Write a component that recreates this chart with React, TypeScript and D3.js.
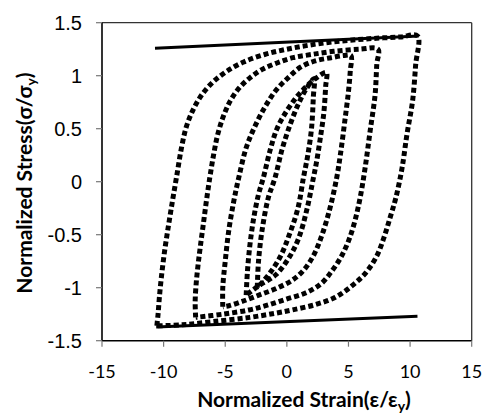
import React from "react";
import * as d3 from "d3";

const xTicks = [-15, -10, -5, 0, 5, 10, 15];
const yTicks = [-1.5, -1, -0.5, 0, 0.5, 1, 1.5];

// [strain, stress] — each loop: ascending branch then descending branch
const loop1: [number, number][] = [
  [-2.4, -1.0], [-2.3, -0.75], [-2.0, -0.45], [-1.5, -0.15], [-0.95, 0.04], [-0.4, 0.3],
  [0.3, 0.55], [1.0, 0.75], [1.6, 0.88], [2.2, 0.97],
  [2.15, 0.8], [2.0, 0.5], [1.7, 0.25], [1.35, 0.04], [0.9, -0.25], [0.2, -0.5],
  [-0.5, -0.7], [-1.3, -0.85], [-2.0, -0.95], [-2.4, -1.0],
];
const loop2: [number, number][] = [
  [-3.3, -1.07], [-3.2, -0.85], [-3.0, -0.6], [-2.7, -0.35], [-2.3, -0.12], [-1.9, 0.04],
  [-1.35, 0.3], [-0.8, 0.5], [0.0, 0.67], [0.8, 0.8], [1.6, 0.9], [2.4, 0.98], [3.2, 1.03],
  [3.15, 0.9], [3.0, 0.65], [2.7, 0.4], [2.4, 0.18], [2.16, 0.04], [1.65, -0.25],
  [0.97, -0.53], [0.16, -0.72], [-0.92, -0.88], [-2.27, -0.98], [-3.3, -1.07],
];
const loop3: [number, number][] = [
  [-5.2, -1.18], [-5.2, -1.0], [-5.0, -0.75], [-4.7, -0.45], [-4.3, -0.18], [-3.9, 0.04],
  [-3.3, 0.32], [-2.6, 0.52], [-1.8, 0.7], [-0.9, 0.86], [0.1, 0.98], [1.1, 1.08],
  [2.3, 1.14], [3.6, 1.17], [4.6, 1.19], [5.2, 1.19],
  [5.15, 1.05], [5.0, 0.85], [4.7, 0.57], [4.35, 0.26], [4.05, 0.04], [3.5, -0.25],
  [2.86, -0.5], [2.19, -0.69], [1.4, -0.83], [0.43, -0.93], [-0.92, -1.01], [-2.27, -1.07],
  [-3.63, -1.13], [-4.7, -1.17], [-5.2, -1.18],
];
const loop4: [number, number][] = [
  [-7.4, -1.28], [-7.44, -1.13], [-7.35, -0.95], [-7.2, -0.78], [-7.03, -0.62], [-6.8, -0.42],
  [-6.55, -0.2], [-6.25, 0.04], [-5.95, 0.25], [-5.6, 0.45], [-5.14, 0.62], [-4.6, 0.76],
  [-3.9, 0.88], [-3.0, 0.98], [-2.0, 1.06], [-0.8, 1.12], [0.5, 1.17], [2.0, 1.2],
  [3.8, 1.23], [5.9, 1.25], [7.4, 1.25],
  [7.3, 1.11], [7.16, 0.82], [6.76, 0.48], [6.35, 0.13], [5.95, -0.15], [5.5, -0.38],
  [5.0, -0.56], [4.4, -0.71], [3.67, -0.84], [2.8, -0.96], [1.51, -1.05], [-0.11, -1.11],
  [-1.73, -1.17], [-3.08, -1.21], [-5.2, -1.25], [-7.4, -1.28],
];
const loop5: [number, number][] = [
  [-10.55, -1.36], [-10.45, -1.25], [-10.35, -1.1], [-10.2, -0.92], [-9.95, -0.68], [-9.6, -0.41],
  [-9.25, -0.16], [-8.9, 0.08], [-8.55, 0.32], [-8.15, 0.52], [-7.6, 0.68], [-6.9, 0.82],
  [-6.0, 0.94], [-4.9, 1.04], [-3.5, 1.13], [-1.8, 1.2], [0.0, 1.25], [1.9, 1.29],
  [3.8, 1.32], [5.7, 1.34], [7.5, 1.355], [9.2, 1.365], [10.6, 1.375],
  [10.45, 1.1], [10.2, 0.76], [9.75, 0.45], [9.35, 0.13], [8.85, -0.15], [8.4, -0.33],
  [7.9, -0.52], [7.3, -0.7], [6.4, -0.86], [5.3, -0.98], [3.94, -1.09], [2.3, -1.16],
  [0.43, -1.21], [-0.9, -1.24], [-3.0, -1.28], [-6.0, -1.32], [-8.5, -1.35], [-10.55, -1.36],
];
const loops = [loop1, loop2, loop3, loop4, loop5];

const upperEnvelope: [number, number][] = [[-10.7, 1.26], [10.7, 1.375]];
const lowerEnvelope: [number, number][] = [[-10.6, -1.37], [10.6, -1.27]];

export default function App() {
  const W = 484, H = 414;
  const x = d3.scaleLinear().domain([-15, 15]).range([102, 471.7]);
  const y = d3.scaleLinear().domain([-1.5, 1.5]).range([340.7, 22.7]);
  const curve = d3
    .line<[number, number]>()
    .x((d) => x(d[0]))
    .y((d) => y(d[1]))
    .curve(d3.curveCatmullRom.alpha(0.5));
  const straight = d3
    .line<[number, number]>()
    .x((d) => x(d[0]))
    .y((d) => y(d[1]));
  const [x0, x1] = x.range();
  const [y0, y1] = y.range();
  return (
    <svg width={W} height={H} style={{ position: "absolute", left: 0, top: 0, background: "#fff" }}>
      <rect x={0} y={0} width={W} height={H} fill="#fff" />
      <line x1={x0} x2={x1} y1={y1} y2={y1} stroke="#333" strokeWidth={1.3} />
      <line x1={x1} x2={x1} y1={y1} y2={y0} stroke="#333" strokeWidth={1.3} />
      {loops.map((l, i) => (
        <path key={i} d={curve(l) || ""} fill="none" stroke="#000" strokeWidth={5} strokeDasharray="5 3" />
      ))}
      <path d={straight(upperEnvelope) || ""} stroke="#000" strokeWidth={3} fill="none" />
      <path d={straight(lowerEnvelope) || ""} stroke="#000" strokeWidth={3} fill="none" />
      <line x1={x0} x2={x0} y1={y1} y2={y0} stroke="#000" strokeWidth={1.6} />
      <line x1={x0} x2={x1} y1={y0} y2={y0} stroke="#000" strokeWidth={1.6} />
      {yTicks.map((t) => (
        <g key={"y" + t}>
          <line x1={x0 - 6} x2={x0} y1={y(t)} y2={y(t)} stroke="#777" strokeWidth={1.2} />
          <text x={82} y={y(t)} dy="0.36em" textAnchor="end" fontFamily="'Liberation Sans', Arial, sans-serif" fontSize={20} fill="#000">
            {t}
          </text>
        </g>
      ))}
      {xTicks.map((t) => (
        <g key={"x" + t}>
          <line x1={x(t)} x2={x(t)} y1={y0} y2={y0 + 6} stroke="#777" strokeWidth={1.2} />
          <text x={x(t)} y={y0 + 31} dy="0.36em" textAnchor="middle" fontFamily="Lato, sans-serif" fontSize={18} fill="#000">
            {t}
          </text>
        </g>
      ))}
      <text x={304} y={407} textAnchor="middle" fontFamily="Lato, sans-serif" fontWeight="bold" fontSize={21} fill="#000">
        Normalized Strain(ε/ε<tspan fontSize={14} dy={4}>y</tspan><tspan dy={-4}>)</tspan>
      </text>
      <text transform={`translate(32,183) rotate(-90)`} textAnchor="middle" fontFamily="Lato, sans-serif" fontWeight="bold" fontSize={21} fill="#000">
        Normalized Stress(σ/σ<tspan fontSize={14} dy={4}>y</tspan><tspan dy={-4}>)</tspan>
      </text>
    </svg>
  );
}
